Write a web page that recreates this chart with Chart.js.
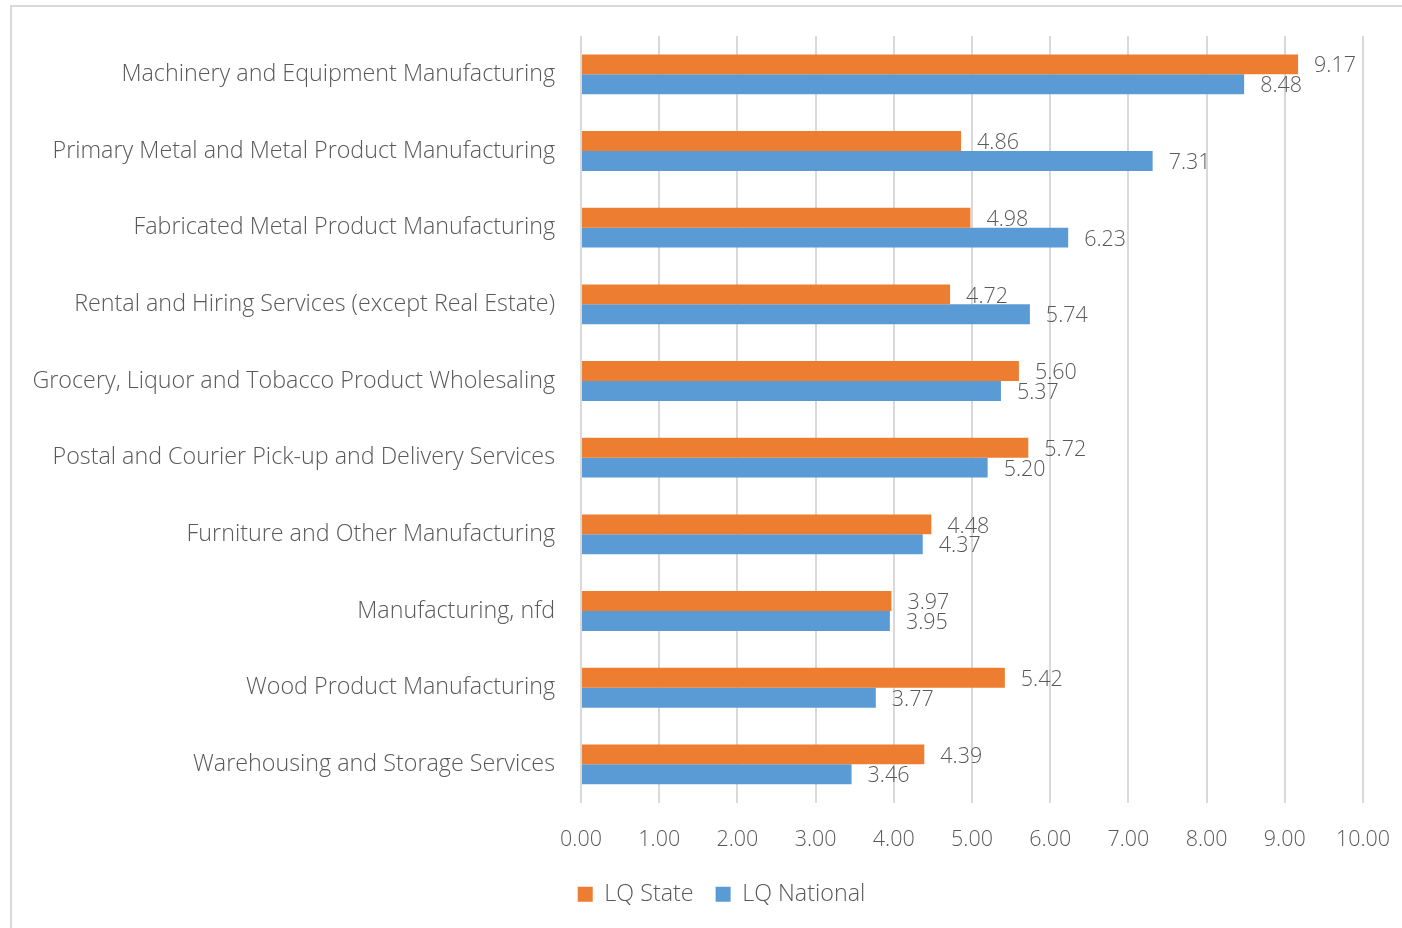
<!DOCTYPE html>
<html>
<head>
<meta charset="utf-8">
<script src="https://cdn.jsdelivr.net/npm/chart.js@4"></script>
<style>
  html, body { margin: 0; padding: 0; background: #fff; }
  #wrap { position: relative; width: 1402px; height: 928px; }
</style>
</head>
<body>
<div id="wrap"><canvas id="grafico" width="1402" height="928"></canvas></div>
<script>
const categorias = [
    'Machinery and Equipment Manufacturing',
    'Primary Metal and Metal Product Manufacturing',
    'Fabricated Metal Product Manufacturing',
    'Rental and Hiring Services (except Real Estate)',
    'Grocery, Liquor and Tobacco Product Wholesaling',
    'Postal and Courier Pick-up and Delivery Services',
    'Furniture and Other Manufacturing',
    'Manufacturing, nfd',
    'Wood Product Manufacturing',
    'Warehousing and Storage Services'
];
const lqState = [9.17, 4.86, 4.98, 4.72, 5.60, 5.72, 4.48, 3.97, 5.42, 4.39];
const lqNational = [8.48, 7.31, 6.23, 5.74, 5.37, 5.20, 4.37, 3.95, 3.77, 3.46];
const eixoMin = 0;
const eixoMax = 10;

const fonte = '"Open Sans", "Noto Sans", sans-serif';
const corTexto = '#595959';

// moldura cinza do grafico
const moldura = {
    id: 'moldura',
    beforeDraw(chart) {
        const c = chart.ctx;
        c.save();
        c.strokeStyle = '#d9d9d9';
        c.lineWidth = 2;
        c.beginPath();
        c.moveTo(11, 928);
        c.lineTo(11, 6);
        c.lineTo(1402, 6);
        c.stroke();
        c.restore();
    }
};

// empurra a legenda para a direita e um pouco para cima
const deslocaLegenda = {
    id: 'deslocaLegenda',
    afterLayout(chart) {
        const dx = 40, dy = -12;
        chart.legend.left += dx;
        chart.legend.right += dx;
        chart.legend.top += dy;
        chart.legend.bottom += dy;
    }
};

// rotulos de valor ao lado das barras
const rotulos = {
    id: 'rotulos',
    afterDatasetsDraw(chart) {
        const c = chart.ctx;
        c.save();
        c.font = '300 21.5px ' + fonte;
        c.fillStyle = corTexto;
        c.textAlign = 'left';
        c.textBaseline = 'middle';
        chart.data.datasets.forEach((ds, i) => {
            chart.getDatasetMeta(i).data.forEach((bar, j) => {
                c.fillText(ds.data[j].toFixed(2), bar.x + 16, bar.y + 2);
            });
        });
        c.restore();
    }
};

const ctx = document.getElementById('grafico').getContext('2d');
new Chart(ctx, {
    type: 'bar',
    data: {
        labels: categorias,
        datasets: [{
            label: 'LQ State',
            data: lqState,
            backgroundColor: '#ED7D31'
        }, {
            label: 'LQ National',
            data: lqNational,
            backgroundColor: '#5B9BD5'
        }]
    },
    options: {
        indexAxis: 'y',
        responsive: false,
        animation: false,
        categoryPercentage: 0.52,
        barPercentage: 1,
        layout: { padding: { top: 36, right: 39, left: 0, bottom: 0 } },
        scales: {
            x: {
                min: eixoMin,
                max: eixoMax,
                ticks: {
                    stepSize: 1,
                    padding: 24,
                    color: corTexto,
                    font: { family: fonte, size: 21.5, weight: 300 },
                    callback: v => v.toFixed(2)
                },
                grid: { color: '#d9d9d9', lineWidth: 2, drawTicks: false },
                border: { display: false },
                afterFit(scale) {
                    scale.height = 70;
                    scale.paddingRight = 0;
                    scale.paddingLeft = 0;
                }
            },
            y: {
                ticks: {
                    padding: 26,
                    color: corTexto,
                    font: { family: fonte, size: 23.3, weight: 300 }
                },
                grid: { display: false, drawTicks: false },
                border: { display: false },
                afterFit(scale) {
                    scale.width = 581;
                    scale.paddingTop = 0;
                    scale.paddingBottom = 0;
                }
            }
        },
        plugins: {
            legend: {
                position: 'bottom',
                labels: {
                    boxWidth: 15,
                    boxHeight: 15,
                    padding: 22,
                    color: corTexto,
                    font: { family: fonte, size: 23.3, weight: 300 }
                }
            },
            tooltip: { enabled: false }
        }
    },
    plugins: [moldura, deslocaLegenda, rotulos]
});
</script>
</body>
</html>
